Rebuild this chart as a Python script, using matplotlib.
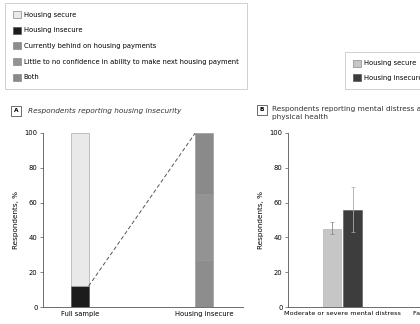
import matplotlib
matplotlib.use("Agg")
import matplotlib.pyplot as plt
from matplotlib.patches import Patch

# panel A data
a_categories = ["Full sample", "Housing insecure"]
full_insecure = 12
full_secure = 88
insec_behind = 27
insec_confidence = 38
insec_both = 35

# panel B data
b_categories = ["Moderate or severe mental distress", "Fair or poor physical health"]
b_secure = [45]
b_secure_err_lo = [3]
b_secure_err_hi = [4]
b_insecure = [56]
b_insecure_err_lo = [13]
b_insecure_err_hi = [13]

yticks = [0, 20, 40, 60, 80, 100]

c_secure = "#e9e9e9"
c_insecure = "#1c1c1c"
c_behind = "#8d8d8d"
c_conf = "#939393"
c_both = "#8a8a8a"
c_b_secure = "#c6c6c6"
c_b_insecure = "#3d3d3d"

fs = 4.85
plt.rcParams["font.family"] = "DejaVu Sans"
plt.rcParams["axes.linewidth"] = 0.6

fig = plt.figure(figsize=(4.2, 3.24), dpi=100)

# ---- legends ----
h1 = [Patch(fc=c_secure, ec="#888888", lw=0.5, label="Housing secure"),
      Patch(fc=c_insecure, ec="#555555", lw=0.5, label="Housing insecure"),
      Patch(fc=c_behind, ec="#888888", lw=0.5, label="Currently behind on housing payments"),
      Patch(fc=c_conf, ec="#888888", lw=0.5, label="Little to no confidence in ability to make next housing payment"),
      Patch(fc=c_both, ec="#888888", lw=0.5, label="Both")]
leg1 = fig.legend(handles=h1, loc="upper left", bbox_to_anchor=(5 / 420, 1 - 3 / 324),
                  fontsize=fs, frameon=True, fancybox=False, edgecolor="#bbbbbb",
                  handlelength=1.2, handleheight=1.2, labelspacing=1.3, borderpad=1.2,
                  handletextpad=0.4, borderaxespad=0)
leg1.get_frame().set_linewidth(0.6)

h2 = [Patch(fc=c_b_secure, ec="#888888", lw=0.5, label="Housing secure"),
      Patch(fc=c_b_insecure, ec="#555555", lw=0.5, label="Housing insecure")]
leg2 = fig.legend(handles=h2, loc="upper left", bbox_to_anchor=(345 / 420, 1 - 52 / 324),
                  fontsize=fs, frameon=True, fancybox=False, edgecolor="#bbbbbb",
                  handlelength=1.2, handleheight=1.2, labelspacing=1.15, borderpad=1.15,
                  handletextpad=0.4, borderaxespad=0)
leg2.get_frame().set_linewidth(0.6)

# ---- panel A ----
axA = fig.add_axes([43 / 420, 17 / 324, 200 / 420, 174 / 324])
w = 0.14
axA.bar(0, full_insecure, w, color=c_insecure, edgecolor="#444444", lw=0.4)
axA.bar(0, full_secure, w, bottom=full_insecure, color=c_secure, edgecolor="#999999", lw=0.4)
axA.bar(1, insec_behind, w, color=c_behind, edgecolor="#939393", lw=0.4)
axA.bar(1, insec_confidence, w, bottom=insec_behind, color=c_conf, edgecolor="#939393", lw=0.4)
axA.bar(1, insec_both, w, bottom=insec_behind + insec_confidence, color=c_both,
        edgecolor="#939393", lw=0.4)
axA.plot([w / 2, 1 - w / 2], [full_insecure, 100], ls=(0, (4, 2.5)), color="#555555", lw=0.7)
axA.set_xlim(-0.298, 1.315)
axA.set_xticks([0, 1])
axA.set_xticklabels(a_categories)

fig.text(16 / 420, 1 - 111 / 324, "A", fontsize=4.2, fontweight="bold", ha="center", va="center",
         bbox=dict(boxstyle="square,pad=0.45", fc="white", ec="#333333", lw=0.5))
fig.text(28 / 420, 1 - 111 / 324, "Respondents reporting housing insecurity", fontsize=5.3,
         style="italic", va="center", color="#333333")

# ---- panel B ----
axB = fig.add_axes([288 / 420, 17 / 324, 200 / 420, 174 / 324])
bw = 0.156
axB.bar(0 - bw / 2 - 0.01, b_secure, bw, color=c_b_secure, edgecolor="#aaaaaa", lw=0.4,
        yerr=[b_secure_err_lo, b_secure_err_hi], ecolor="#888888",
        error_kw=dict(lw=0.6, capsize=1.5, capthick=0.5))
axB.bar(0 + bw / 2 + 0.01, b_insecure, bw, color=c_b_insecure, edgecolor="#555555", lw=0.4,
        yerr=[b_insecure_err_lo, b_insecure_err_hi], ecolor="#aaaaaa",
        error_kw=dict(lw=0.6, capsize=1.5, capthick=0.5))
axB.set_xlim(-0.47, 1.26)
axB.set_xticks([0, 1])
axB.set_xticklabels(b_categories)

fig.text(262 / 420, 1 - 110 / 324, "B", fontsize=4.2, fontweight="bold", ha="center", va="center",
         bbox=dict(boxstyle="square,pad=0.45", fc="white", ec="#333333", lw=0.5))
fig.text(272 / 420, 1 - 106 / 324,
         "Respondents reporting mental distress and poor\nphysical health",
         fontsize=5.3, va="top", linespacing=1.45, color="#333333")

for ax in (axA, axB):
    ax.set_ylim(0, 100)
    ax.set_yticks(yticks)
    ax.set_ylabel("Respondents, %", fontsize=5.2, labelpad=4)
    ax.spines["top"].set_visible(False)
    ax.spines["right"].set_visible(False)
    ax.spines["left"].set_color("#555555")
    ax.spines["bottom"].set_color("#555555")
    ax.tick_params(axis="y", labelsize=fs, length=2, width=0.5, color="#555555", pad=2)
    ax.tick_params(axis="x", labelsize=fs, length=0, pad=3)
axB.tick_params(axis="x", labelsize=4.65)

fig.savefig("out.png", dpi=100)
